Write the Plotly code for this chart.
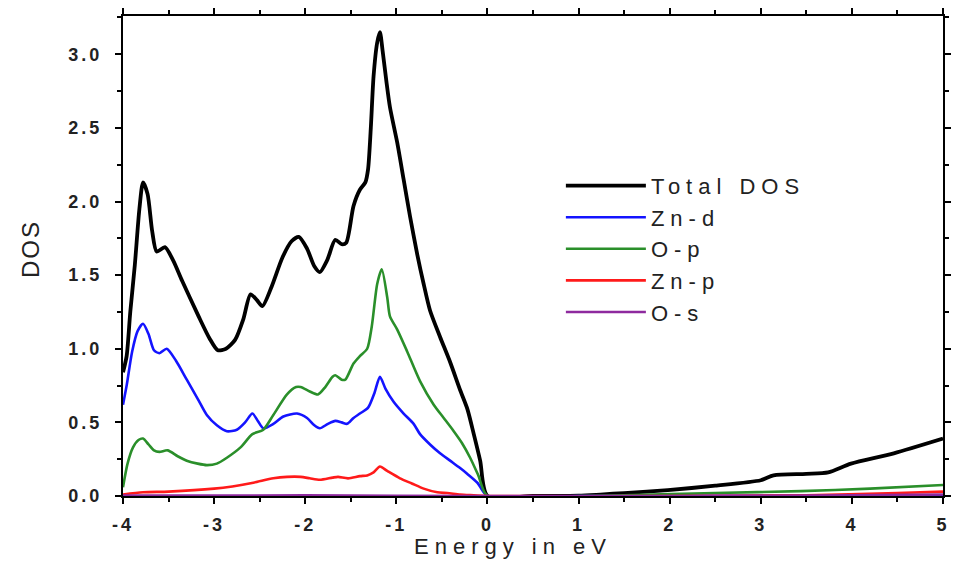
import plotly.graph_objects as go

# ---------------- data ----------------
total_e = [-4.0, -3.96, -3.92, -3.87, -3.82, -3.78, -3.73, -3.68, -3.63, -3.54, -3.45, -3.35,
           -3.17, -3.05, -2.96, -2.87, -2.77, -2.68, -2.60, -2.53, -2.47, -2.37, -2.25, -2.15,
           -2.07, -1.98, -1.90, -1.84, -1.76, -1.67, -1.60, -1.55, -1.47, -1.40, -1.34, -1.31,
           -1.28, -1.25, -1.21, -1.18, -1.15, -1.11, -1.07, -0.99, -0.92, -0.85, -0.77, -0.70,
           -0.63, -0.52, -0.41, -0.30, -0.22, -0.15, -0.08, 0.0, 0.5, 1.0, 1.24, 1.5, 1.98,
           2.5, 3.0, 3.14, 3.5, 3.74, 3.99, 4.46, 5.0]
total_dos = [0.84, 0.95, 1.25, 1.57, 1.95, 2.13, 2.05, 1.80, 1.66, 1.69, 1.60, 1.46,
             1.22, 1.07, 0.99, 1.00, 1.06, 1.20, 1.37, 1.33, 1.29, 1.42, 1.62, 1.73,
             1.76, 1.68, 1.56, 1.52, 1.60, 1.74, 1.71, 1.72, 1.97, 2.08, 2.13, 2.22,
             2.50, 2.85, 3.08, 3.15, 3.02, 2.82, 2.64, 2.40, 2.15, 1.90, 1.64, 1.44,
             1.26, 1.08, 0.91, 0.72, 0.59, 0.42, 0.24, 0.0, 0.0, 0.002, 0.01, 0.02, 0.04,
             0.07, 0.107, 0.14, 0.15, 0.16, 0.22, 0.29, 0.39]

znd_e = [-4.0, -3.96, -3.9, -3.84, -3.78, -3.72, -3.66, -3.6, -3.52, -3.42, -3.30, -3.18,
         -3.08, -2.97, -2.86, -2.75, -2.66, -2.58, -2.52, -2.46, -2.35, -2.24, -2.09, -1.98,
         -1.90, -1.84, -1.75, -1.67, -1.60, -1.54, -1.47, -1.40, -1.31, -1.24, -1.18, -1.12,
         -1.03, -0.92, -0.81, -0.74, -0.63, -0.52, -0.41, -0.30, -0.22, -0.11, 0.0, 1.0,
         2.0, 3.0, 4.0, 5.0]
znd_dos = [0.62, 0.75, 0.98, 1.12, 1.17, 1.10, 0.99, 0.97, 1.00, 0.92, 0.79, 0.66,
           0.55, 0.48, 0.44, 0.45, 0.50, 0.56, 0.51, 0.46, 0.49, 0.54, 0.56, 0.53,
           0.48, 0.46, 0.49, 0.51, 0.50, 0.49, 0.53, 0.56, 0.60, 0.70, 0.81, 0.73,
           0.64, 0.56, 0.49, 0.42, 0.35, 0.29, 0.24, 0.19, 0.15, 0.09, 0.0, 0.0,
           0.001, 0.002, 0.003, 0.005]

op_e = [-4.0, -3.95, -3.89, -3.83, -3.78, -3.72, -3.66, -3.6, -3.51, -3.40, -3.30, -3.18,
        -3.08, -2.97, -2.86, -2.71, -2.58, -2.46, -2.35, -2.20, -2.10, -2.05, -1.95, -1.86,
        -1.78, -1.70, -1.67, -1.60, -1.56, -1.47, -1.40, -1.32, -1.27, -1.21, -1.16, -1.10,
        -1.07, -0.99, -0.88, -0.74, -0.59, -0.48, -0.37, -0.28, -0.19, -0.10, 0.0, 1.0,
        1.5, 2.5, 3.44, 4.2, 5.0]
op_dos = [0.06, 0.22, 0.33, 0.38, 0.39, 0.35, 0.31, 0.30, 0.31, 0.27, 0.24, 0.22,
          0.21, 0.22, 0.26, 0.33, 0.42, 0.45, 0.55, 0.69, 0.74, 0.74, 0.71, 0.69,
          0.74, 0.81, 0.82, 0.79, 0.79, 0.90, 0.95, 1.00, 1.15, 1.44, 1.54, 1.35,
          1.22, 1.13, 0.98, 0.78, 0.62, 0.53, 0.44, 0.36, 0.26, 0.14, 0.0, 0.0,
          0.005, 0.02, 0.033, 0.05, 0.075]

znp_e = [-4.0, -3.78, -3.5, -3.0, -2.8, -2.57, -2.35, -2.2, -2.05, -1.95, -1.84, -1.70,
         -1.64, -1.53, -1.40, -1.32, -1.25, -1.18, -1.10, -0.96, -0.83, -0.70, -0.55, -0.44,
         -0.3, -0.15, 0.0, 2.0, 3.5, 4.5, 5.0]
znp_dos = [0.01, 0.025, 0.03, 0.05, 0.065, 0.09, 0.12, 0.13, 0.13, 0.12, 0.11, 0.125,
           0.13, 0.12, 0.135, 0.14, 0.16, 0.20, 0.17, 0.12, 0.085, 0.05, 0.025, 0.02,
           0.01, 0.005, 0.0, 0.0, 0.005, 0.02, 0.03]

os_e = [-4.0, -2.0, 0.0, 2.0, 4.0, 5.0]
os_dos = [0.003, 0.004, 0.0, 0.0, 0.005, 0.01]

series_names = ["Total DOS", "Zn-d", "O-p", "Zn-p", "O-s"]
x_ticks = [-4, -3, -2, -1, 0, 1, 2, 3, 4, 5]
y_ticks = [0.0, 0.5, 1.0, 1.5, 2.0, 2.5, 3.0]

# ---------------- styling ----------------
colors = ["#000000", "#1414ff", "#2a8f2a", "#ff1a1a", "#8e2a9e"]
widths = [3.8, 2.6, 2.6, 2.6, 2.6]
all_x = [total_e, znd_e, op_e, znp_e, os_e]
all_y = [total_dos, znd_dos, op_dos, znp_dos, os_dos]


def spaced(t, px):
    return f'<span style="letter-spacing:{px}px">{t}</span>'


fig = go.Figure()
for name, xs, ys, c, w in zip(series_names, all_x, all_y, colors, widths):
    fig.add_trace(go.Scatter(
        x=xs, y=ys, mode="lines", name=spaced(name, 6),
        line=dict(color=c, width=w, shape="spline", smoothing=0.7),
    ))

tick_font = dict(family="Liberation Sans, Arial, sans-serif", size=18, color="#222222",
                 weight="bold")
axis_common = dict(
    showline=True, linecolor="black", linewidth=2, mirror="ticks",
    ticks="outside", ticklen=6, tickwidth=2, tickcolor="black",
    showgrid=False, zeroline=False, tickfont=tick_font,
)

fig.update_xaxes(
    range=[-4, 5], tickmode="array", tickvals=x_ticks,
    ticktext=[spaced(str(v), 3) for v in x_ticks],
    ticklabelstandoff=5,
    minor=dict(dtick=0.5, ticks="outside", ticklen=4, tickwidth=2, tickcolor="black"),
    **axis_common,
)
fig.update_yaxes(
    range=[0, 3.26], tickmode="array", tickvals=y_ticks,
    ticktext=[spaced(f"{v:.1f}", 3) for v in y_ticks],
    ticklabelstandoff=9,
    minor=dict(dtick=0.25, ticks="outside", ticklen=4, tickwidth=2, tickcolor="black"),
    **axis_common,
)

title_font = dict(family="Liberation Sans, Arial, sans-serif", size=22, color="#222222")
fig.add_annotation(text=spaced("Energy in eV", 6), xref="paper", yref="paper",
                   x=0.476, y=-0.106, xanchor="center", yanchor="middle",
                   showarrow=False, font=title_font)
fig.add_annotation(text=spaced("DOS", 2), xref="paper", yref="paper",
                   x=-0.112, y=0.515, xanchor="center", yanchor="middle",
                   textangle=-90, showarrow=False,
                   font=dict(family="Liberation Sans, Arial, sans-serif", size=24,
                             color="#222222"))

# the page body has an 8px margin; the figure is sized so it fills the window from there
fig.update_layout(
    width=955, height=556,
    margin=dict(l=115, r=20, t=0, b=68),
    paper_bgcolor="white", plot_bgcolor="white",
    showlegend=True,
    legend=dict(
        x=0.534, y=0.69, xanchor="left", yanchor="top",
        bgcolor="rgba(0,0,0,0)", borderwidth=0,
        font=dict(family="Liberation Sans, Arial, sans-serif", size=22, color="#222222"),
        itemwidth=80,
    ),
)

fig.write_html("out.html")
